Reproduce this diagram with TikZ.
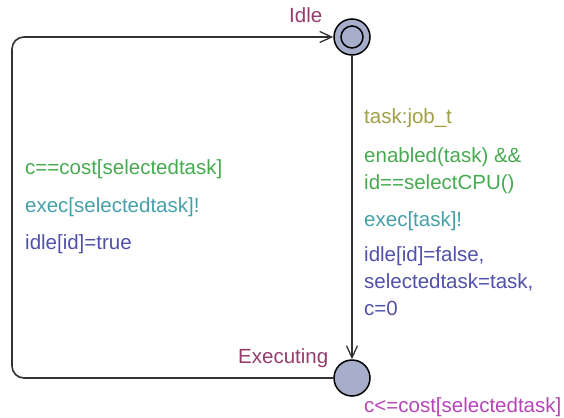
\documentclass[tikz,border=0pt]{standalone}
\usepackage{fontspec}
\setmainfont{Liberation Sans}
\usetikzlibrary{arrows.meta}
\definecolor{locname}{RGB}{150,60,110}
\definecolor{selcol}{RGB}{160,160,70}
\definecolor{guardcol}{RGB}{70,170,80}
\definecolor{synccol}{RGB}{70,160,170}
\definecolor{updcol}{RGB}{80,80,170}
\definecolor{invcol}{RGB}{180,70,180}
\definecolor{locfill}{RGB}{166,174,204}
\definecolor{edgecol}{RGB}{50,50,50}
\begin{document}
\begin{tikzpicture}[x=1pt,y=-1pt,
  lbl/.style={font=\fontsize{20.5}{27}\selectfont, inner sep=0pt, anchor=base west},
  loc/.style={circle, draw=black, line width=1.5pt, fill=locfill, minimum size=36pt, inner sep=0pt},
  inner/.style={circle, draw=black, line width=1.5pt, minimum size=22pt, inner sep=0pt},
  edge/.style={draw=edgecol, line width=1.6pt, -{Straight Barb[length=12pt,width=11pt,line width=1.3pt]}}]
\useasboundingbox (0,0) rectangle (564,417);
\node[loc] (idle) at (352,37) {};
\node[inner] (idlein) at (idle) {};
\node[loc] (exec) at (352,378) {};
\draw[edge] (idle) -- (exec);
\draw[edge, rounded corners=12pt] (exec.west) -- (12,378) -- (12,37) -- (idle.west);
\node[lbl, text=locname] (nidle) at (289,23) {Idle};
\node[lbl, text=locname] (nexec) at (238,363) {Executing};
\node[lbl, text=invcol] (inv) at (364,412) {c<=cost[selectedtask]};
\node[lbl, text=guardcol] (lg) at (25,174) {c==cost[selectedtask]};
\node[lbl, text=synccol] (ls) at (25,212) {exec[selectedtask]!};
\node[lbl, text=updcol] (lu) at (25,249) {idle[id]=true};
\node[lbl, text=selcol] (rsel) at (364,124) {task:job\_t};
\node[lbl, text=guardcol] (rg1) at (364,162) {enabled(task) \&\&};
\node[lbl, text=guardcol] (rg2) at (364,189) {id==selectCPU()};
\node[lbl, text=synccol] (rs) at (364,226) {exec[task]!};
\node[lbl, text=updcol] (ru1) at (364,261) {idle[id]=false,};
\node[lbl, text=updcol] (ru2) at (364,288) {selectedtask=task,};
\node[lbl, text=updcol] (ru3) at (364,315) {c=0};
\end{tikzpicture}
\end{document}
